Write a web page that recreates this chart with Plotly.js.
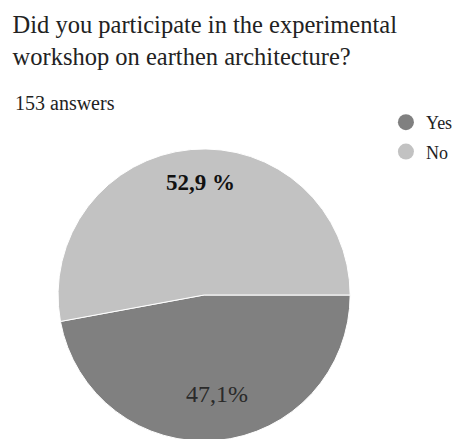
<!DOCTYPE html>
<html>
<head>
<meta charset="utf-8">
<script src="https://cdn.plot.ly/plotly-3.0.1.min.js"></script>
<style>
  html, body { margin: 0; padding: 0; overflow: hidden; background: #fff; }
  #chart { width: 458px; height: 447px; }
</style>
</head>
<body>
<div id="chart"></div>
<script>
// ---- data ----
const categories = ["Yes", "No"];
const percentages = [47.1, 52.9];
const sliceLabels = ["47,1%", "52,9 %"];
const sliceColors = ["#808080", "#c2c2c2"];
const chartTitle = "Did you participate in the experimental<br>workshop on earthen architecture?";
const answerCount = "153 answers";

const W = 458, H = 447;
const serif = "'Liberation Serif', 'Times New Roman', serif";

const pieTrace = {
  type: "pie",
  labels: categories,
  values: percentages,
  marker: { colors: sliceColors, line: { color: "#ffffff", width: 1 } },
  sort: false,
  direction: "clockwise",
  rotation: 90,
  textinfo: "none",
  hoverinfo: "label+percent",
  showlegend: false,
  domain: { x: [60 / W, 362 / W], y: [(H - 446) / H, (H - 144) / H] }
};

const legendTraces = categories.map((c, i) => ({
  type: "scatter",
  x: [null], y: [null],
  mode: "markers",
  name: c,
  legendgroup: "g" + i,
  marker: { symbol: "circle", size: 16, color: sliceColors[i] },
  showlegend: true,
  hoverinfo: "skip"
}));

// label positions (paper fractions) for slice labels
const labelPos = [
  { x: 224 / W, y: 1 - 394 / H, bold: false, size: 24 },
  { x: 207 / W, y: 1 - 183 / H, bold: true, size: 23 }
];

const annotations = [
  {
    text: answerCount, xref: "paper", yref: "paper",
    x: 13 / W, y: 1 - 90 / H, xanchor: "left", yanchor: "top",
    showarrow: false, font: { family: serif, size: 20, color: "#222" }
  }
].concat(sliceLabels.map((t, i) => ({
  text: labelPos[i].bold ? "<b>" + t + "</b>" : t,
  xref: "paper", yref: "paper",
  x: labelPos[i].x, y: labelPos[i].y,
  xanchor: "center", yanchor: "middle",
  showarrow: false,
  font: { family: serif, size: labelPos[i].size, color: labelPos[i].bold ? "#111" : "#2a2a2a" }
})));

const layout = {
  width: W, height: H,
  margin: { l: 0, r: 0, t: 0, b: 0 },
  paper_bgcolor: "#ffffff",
  plot_bgcolor: "#ffffff",
  title: {
    text: chartTitle,
    x: 13 / W, xanchor: "left", xref: "paper",
    y: 1 - 33 / H, yanchor: "top", yref: "container",
    font: { family: serif, size: 24.5, color: "#222" }
  },
  xaxis: { visible: false, fixedrange: true },
  yaxis: { visible: false, fixedrange: true },
  showlegend: true,
  legend: {
    x: 399 / W, y: 1 - 104 / H, xanchor: "left", yanchor: "top",
    font: { family: serif, size: 18, color: "#222" },
    itemsizing: "trace",
    tracegroupgap: 3,
    bgcolor: "rgba(0,0,0,0)"
  },
  annotations: annotations
};

Plotly.newPlot("chart", [pieTrace].concat(legendTraces), layout, { displayModeBar: false, staticPlot: true });
</script>
</body>
</html>
